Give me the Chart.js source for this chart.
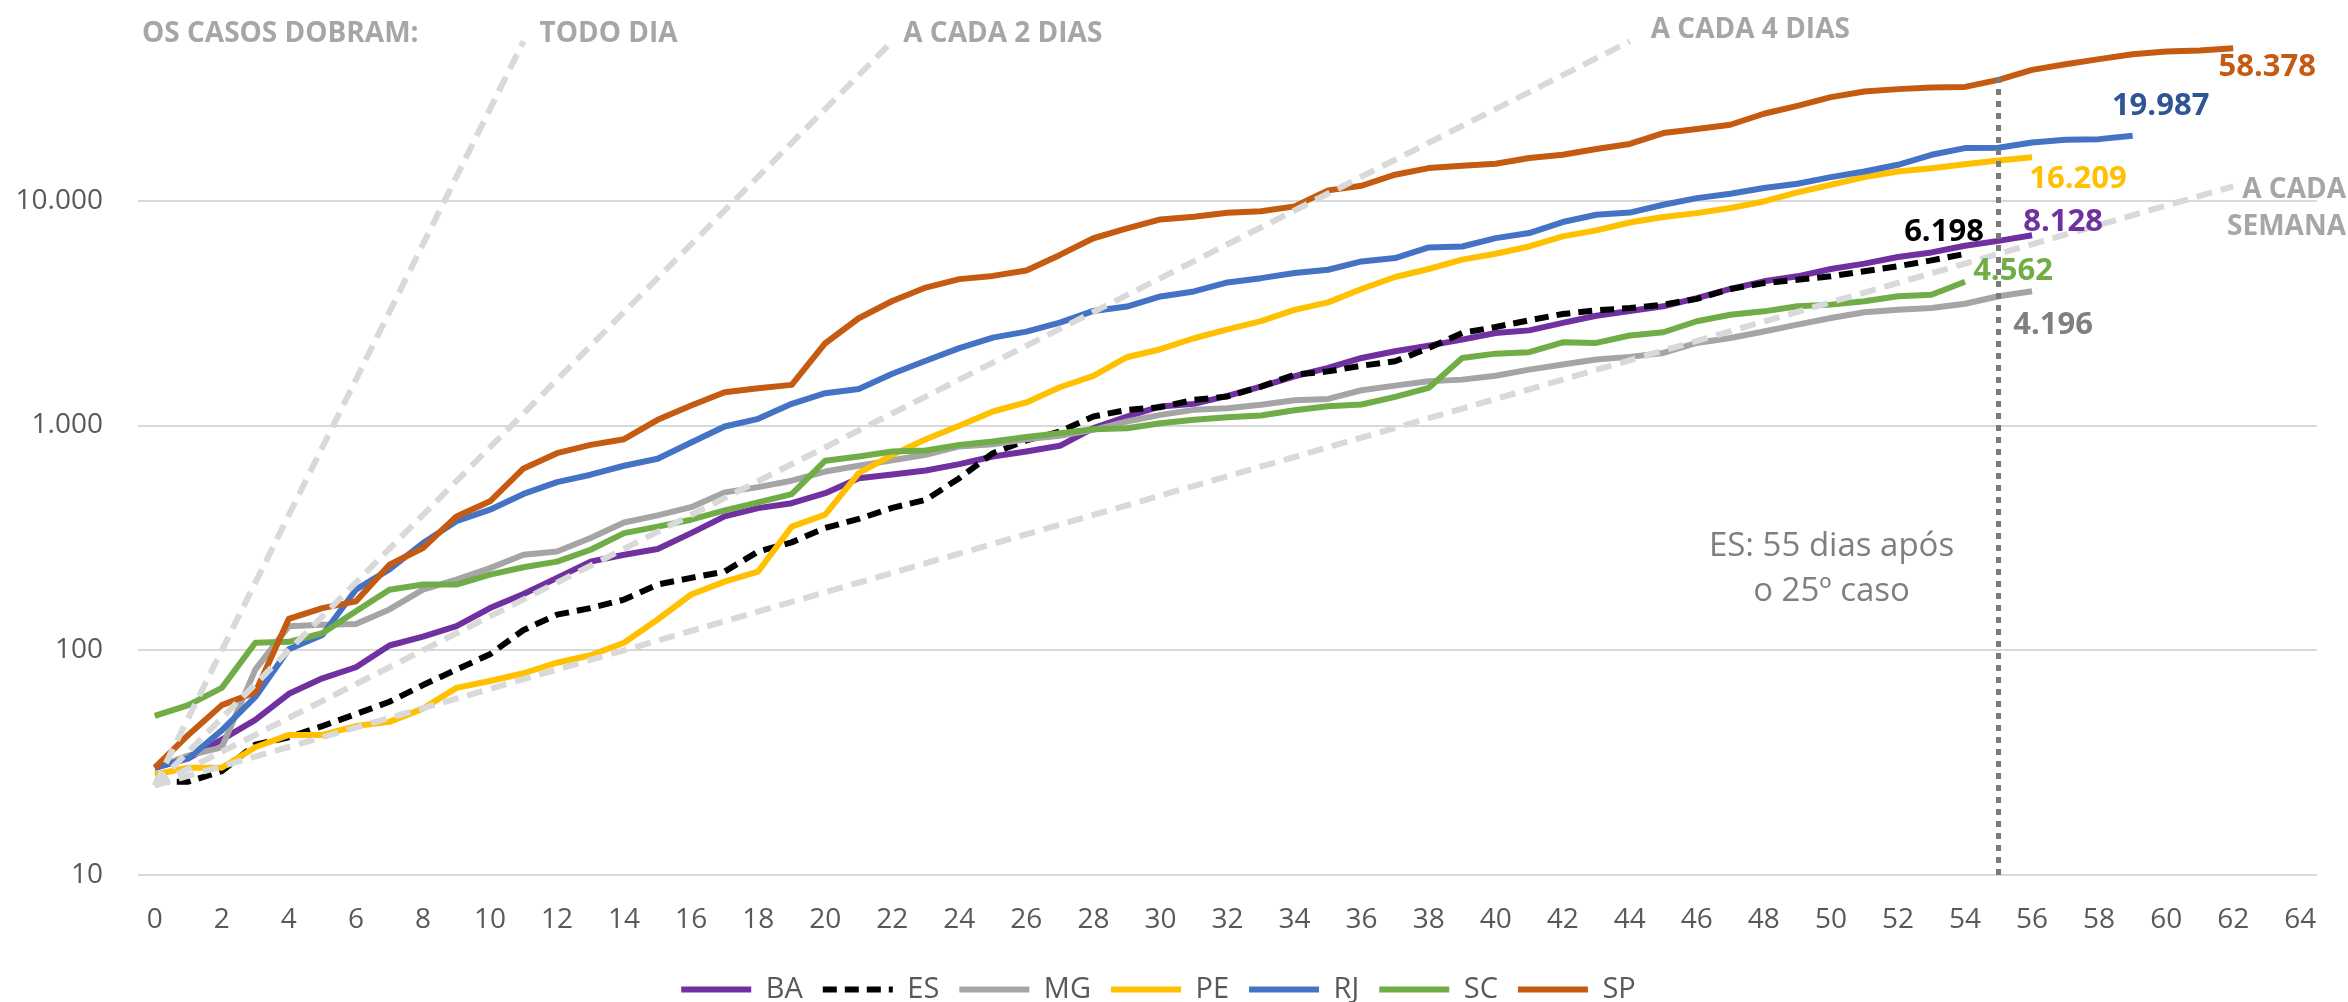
<!DOCTYPE html>
<html>
<head>
<meta charset="utf-8">
<title>Casos confirmados após o 25º caso</title>
<script src="https://cdn.jsdelivr.net/npm/chart.js@4.4.0/dist/chart.umd.min.js"></script>
<style>
  html, body { margin: 0; padding: 0; background: #fff; overflow: hidden; }
  /* o gráfico original vai até 100.000, mas está cortado no topo */
  #wrap { position: absolute; left: 0; top: -24px; width: 2348px; height: 1038px; }
</style>
</head>
<body>
<div id="wrap"><canvas id="casesChart"></canvas></div>
<script>
// dias após o 25º caso
const days = [0, 1, 2, 3, 4, 5, 6, 7, 8, 9, 10, 11, 12, 13, 14, 15, 16, 17, 18, 19, 20,
  21, 22, 23, 24, 25, 26, 27, 28, 29, 30, 31, 32, 33, 34, 35, 36, 37, 38, 39, 40,
  41, 42, 43, 44, 45, 46, 47, 48, 49, 50, 51, 52, 53, 54, 55, 56, 57, 58, 59, 60,
  61, 62, 63, 64];
const xTicks = [0, 2, 4, 6, 8, 10, 12, 14, 16, 18, 20, 22, 24, 26, 28, 30, 32,
  34, 36, 38, 40, 42, 44, 46, 48, 50, 52, 54, 56, 58, 60, 62, 64];
const yTicks = [10, 100, 1000, 10000];

// casos acumulados por estado
const ba = [30, 33, 40, 49, 64, 75, 84, 105, 115, 128, 154, 178, 210, 248, 266, 282, 332, 394, 429, 451,
  500, 583, 605, 631, 673, 728, 766, 812, 973, 1096, 1215, 1248, 1354, 1490, 1656, 1804, 1997, 2139, 2266, 2410,
  2580, 2650, 2860, 3080, 3230, 3390, 3690, 4050, 4380, 4610, 4970, 5250, 5620, 5890, 6310, 6630, 7020];
const es = [26, 26, 29, 38, 41, 46, 52, 59, 70, 82, 96, 123, 144, 154, 168, 196, 210, 224, 275, 302,
  350, 384, 430, 467, 583, 753, 858, 940, 1096, 1174, 1207, 1300, 1346, 1490, 1683, 1741, 1845, 1930, 2213, 2580,
  2744, 2938, 3135, 3254, 3330, 3450, 3660, 4050, 4300, 4450, 4610, 4860, 5110, 5430, 5800];
const mg = [30, 34, 37, 82, 128, 130, 131, 152, 186, 206, 232, 266, 275, 316, 370, 398, 433, 504, 532, 568,
  624, 662, 700, 741, 807, 826, 869, 900, 957, 1042, 1115, 1174, 1194, 1238, 1295, 1313, 1435, 1505, 1573, 1600,
  1666, 1773, 1868, 1965, 2020, 2103, 2330, 2450, 2620, 2810, 3010, 3190, 3270, 3330, 3480, 3760, 3960];
const pe = [28, 30, 30, 37, 42, 42, 46, 48, 55, 68, 73, 79, 88, 95, 108, 137, 177, 202, 224, 355,
  401, 614, 740, 869, 997, 1154, 1266, 1480, 1663, 2013, 2185, 2445, 2680, 2915, 3270, 3530, 4050, 4580, 4970, 5470,
  5810, 6260, 6940, 7380, 8000, 8460, 8810, 9280, 9930, 10890, 11780, 12740, 13500, 13960, 14530, 15090, 15630];
const rj = [30, 33, 44, 62, 101, 117, 186, 229, 300, 375, 422, 496, 560, 604, 662, 711, 840, 990, 1071, 1249,
  1393, 1452, 1700, 1940, 2210, 2460, 2617, 2870, 3235, 3383, 3750, 3950, 4330, 4525, 4770, 4930, 5370, 5560, 6200, 6260,
  6820, 7180, 8040, 8660, 8860, 9600, 10270, 10750, 11390, 11900, 12740, 13500, 14460, 16020, 17150, 17200, 18150, 18660, 18800, 19450];
const sc = [51, 57, 68, 108, 109, 119, 149, 186, 196, 196, 217, 234, 248, 280, 332, 355, 381, 419, 455, 495,
  697, 728, 766, 774, 820, 849, 888, 925, 963, 973, 1024, 1060, 1089, 1107, 1169, 1219, 1240, 1341, 1470, 1997,
  2088, 2118, 2345, 2330, 2515, 2600, 2910, 3110, 3220, 3390, 3450, 3570, 3760, 3820, 4360];
const sp = [30, 42, 57, 65, 138, 154, 165, 240, 285, 394, 460, 644, 753, 820, 869, 1060, 1227, 1407, 1465, 1516,
  2323, 3000, 3580, 4110, 4480, 4630, 4890, 5740, 6810, 7540, 8260, 8490, 8850, 8985, 9440, 11120, 11660, 13060, 13970, 14320,
  14620, 15490, 16030, 17000, 17900, 20000, 20840, 21790, 24380, 26440, 28900, 30620, 31380, 31930, 32100, 34510, 38230, 40500, 42670, 44900,
  46130, 46580, 47700];

const stateNames = ['BA', 'ES', 'MG', 'PE', 'RJ', 'SC', 'SP'];
const stateValues = [ba, es, mg, pe, rj, sc, sp];
// total mais recente de cada estado (rótulos)
const latestTotals = [8128, 6198, 4196, 16209, 19987, 4562, 58378];

// linhas de referência: partem de 25 casos no dia 0
const guideNames = [['TODO DIA'], ['A CADA 2 DIAS'], ['A CADA 4 DIAS'], ['A CADA', 'SEMANA']];
const guideStart = 25;
const guideEndDay = [11, 22, 44, 62];
const guideEndValue = [51200, 51200, 51200, 11600];

// marcador do ES
const esMarkerDay = 55;
const esMarkerTop = 37500;
const esNoteLines = ['ES: 55 dias após', 'o 25º caso'];
const esNoteValue = 290;

// estilos
const stateColors = ['#7030a0', '#000000', '#a5a5a5', '#ffc000', '#4472c4', '#70ad47', '#c55a11'];
const labelColors = ['#7030a0', '#000000', '#7f7f7f', '#ffc000', '#2f5597', '#70ad47', '#c55a11'];
const labelOffsets = [[31, -13], [-21, -22], [21, 34], [46, 22], [28, -30], [48, -11], [34, 19]];
const guideOffsets = [[16, -7], [11, -7], [21, -11]];

function fmt(n) {
    return String(n).replace(/\B(?=(\d{3})+(?!\d))/g, '.');
}

Chart.defaults.font.family = "'Open Sans', sans-serif";

const datasets = [];
stateNames.forEach((name, i) => {
    datasets.push({
        label: name,
        data: stateValues[i],
        borderColor: stateColors[i],
        backgroundColor: stateColors[i],
        borderWidth: 6,
        borderDash: name === 'ES' ? [14, 8] : [],
        order: stateNames.length - i + 1   // o último estado fica por cima, como no Excel
    });
});
guideNames.forEach((g, i) => {
    datasets.push({
        label: g.join(' '),
        data: [{ x: 0, y: guideStart }, { x: guideEndDay[i], y: guideEndValue[i] }],
        borderColor: '#d9d9d9',
        borderWidth: 6,
        borderDash: [16, 9],
        order: 1
    });
});
datasets.push({
    label: 'ES marcador',
    data: [{ x: esMarkerDay, y: 10 }, { x: esMarkerDay, y: esMarkerTop }],
    borderColor: '#7a7a7a',
    borderWidth: 5,
    borderDash: [6, 6],
    order: 0
});

// rótulos de texto desenhados sobre o gráfico
const textPlugin = {
    id: 'chartTexts',
    afterDatasetsDraw(chart) {
        const ctx = chart.ctx;
        const area = chart.chartArea;
        ctx.save();
        ctx.textBaseline = 'middle';

        // valores no fim de cada linha
        ctx.font = "bold 31px 'Open Sans'";
        ctx.textAlign = 'center';
        stateNames.forEach((name, i) => {
            const meta = chart.getDatasetMeta(i);
            const pt = meta.data[meta.data.length - 1];
            ctx.fillStyle = labelColors[i];
            ctx.fillText(fmt(latestTotals[i]), pt.x + labelOffsets[i][0], pt.y + labelOffsets[i][1]);
        });

        // nomes das linhas de referência
        ctx.font = "bold 28px 'Open Sans'";
        ctx.fillStyle = '#a6a6a6';
        const ends = guideNames.map((g, i) => {
            const meta = chart.getDatasetMeta(stateNames.length + i);
            return meta.data[1];
        });
        ctx.textAlign = 'left';
        ctx.fillText('OS CASOS DOBRAM:', area.left + 4, ends[0].y - 7);
        for (let i = 0; i < 3; i++) {
            ctx.fillText(guideNames[i][0], ends[i].x + guideOffsets[i][0], ends[i].y + guideOffsets[i][1]);
        }
        ctx.textAlign = 'right';
        ctx.fillText(guideNames[3][0], chart.width - 2, ends[3].y + 4);
        ctx.fillText(guideNames[3][1], chart.width - 2, ends[3].y + 41);

        // nota do ES
        ctx.font = "33px 'Open Sans'";
        ctx.fillStyle = '#7f7f7f';
        ctx.textAlign = 'center';
        const nx = chart.scales.x.getPixelForValue(esMarkerDay) - 167;
        const ny = chart.scales.y.getPixelForValue(esNoteValue);
        ctx.fillText(esNoteLines[0], nx, ny);
        ctx.fillText(esNoteLines[1], nx, ny + 45);
        ctx.restore();
    }
};

const ctx = document.getElementById('casesChart').getContext('2d');
const casesChart = new Chart(ctx, {
    type: 'line',
    data: { labels: days, datasets: datasets },
    options: {
        responsive: true,
        maintainAspectRatio: false,
        animation: false,
        layout: { padding: { left: 0, right: 31, top: 0, bottom: 0 } },
        elements: {
            point: { radius: 0, hoverRadius: 0 },
            line: { tension: 0, borderCapStyle: 'butt', borderJoinStyle: 'round' }
        },
        scales: {
            x: {
                type: 'linear',
                min: -0.5,
                max: 64.5,
                grid: { display: false, drawTicks: false },
                border: { display: false },
                ticks: { font: { size: 28 }, color: '#595959', padding: 28, maxRotation: 0 },
                afterBuildTicks: s => { s.ticks = xTicks.map(v => ({ value: v })); },
                afterFit: s => { s.height = 80; s.paddingLeft = 0; s.paddingRight = 0; }
            },
            y: {
                type: 'logarithmic',
                min: 10,
                max: 100000,
                grid: { color: '#d9d9d9', lineWidth: 2, drawTicks: false },
                border: { display: false },
                ticks: { font: { size: 28 }, color: '#595959', padding: 35, callback: v => fmt(v) },
                afterBuildTicks: s => { s.ticks = yTicks.map(v => ({ value: v })); },
                afterFit: s => { s.width = 138; s.paddingTop = 0; s.paddingBottom = 0; }
            }
        },
        plugins: {
            legend: {
                position: 'bottom',
                labels: {
                    usePointStyle: true,
                    pointStyle: 'line',
                    pointStyleWidth: 70,
                    font: { size: 29 },
                    color: '#595959',
                    padding: 20,
                    filter: item => item.datasetIndex < stateNames.length,
                    sort: (a, b) => a.datasetIndex - b.datasetIndex,
                    // amostra de linha com a mesma espessura e traço da série
                    generateLabels: chart => Chart.defaults.plugins.legend.labels.generateLabels(chart).map(item => {
                        const ds = chart.data.datasets[item.datasetIndex];
                        item.lineWidth = ds.borderWidth;
                        item.lineDash = ds.borderDash;
                        item.strokeStyle = ds.borderColor;
                        return item;
                    })
                }
            },
            tooltip: { enabled: false }
        }
    },
    plugins: [textPlugin]
});
</script>
</body>
</html>
